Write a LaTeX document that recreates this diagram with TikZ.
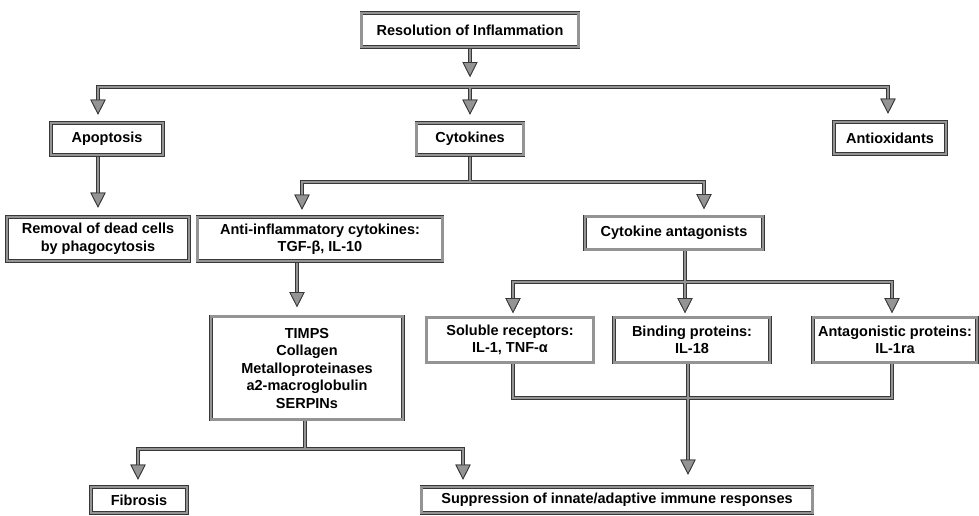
\documentclass[tikz,border=0pt]{standalone}
\usepackage{fontspec}
\setmainfont{Liberation Sans}
\usetikzlibrary{arrows.meta,backgrounds}

\colorlet{wireedge}{black!78}
\colorlet{wirecore}{black!42}

\tikzset{
  box/.style={draw=wireedge, line width=0.65pt, double=wirecore,
    double distance=2.3pt, fill=white, align=center, inner sep=2pt,
    font=\bfseries\fontsize{14.5}{17.5}\selectfont},
  tipshape/.style={-{Triangle[width=15pt,length=15pt,line width=0.8pt,
    color=wireedge,fill=wirecore]}},
  edgepass/.style={draw=wireedge, line width=3.8pt, line cap=rect},
  corepass/.style={draw=wirecore, line width=2.4pt, line cap=rect},
  wire/.style={},
  warr/.style={}
}

% all connectors; drawn twice, dark outline first and grey core on top
\newcommand\wiring{%
  % first level
  \draw[warr, shorten >=10pt] (res.south) -- (b1M);
  \draw[wire] (b1L) -- (b1R);
  \draw[warr, shorten >=8pt] (b1L) -- (b1L |- apop.north);
  \draw[warr, shorten >=8pt] (b1M) -- (cyto.north);
  \draw[warr, shorten >=8pt] (b1R) -- (b1R |- antiox.north);
  % apoptosis branch
  \draw[warr, shorten >=9pt] (apop.south -| removal.north) -- (removal.north);
  % cytokines branch
  \draw[wire] (cyto.south) -- (b2M);
  \draw[wire] (b2L) -- (b2R);
  \draw[warr, shorten >=7pt] (b2L) -- (b2L |- anti.north);
  \draw[warr, shorten >=7pt] (b2R) -- (b2R |- cant.north);
  % anti-inflammatory chain
  \draw[warr, shorten >=9pt] (anti.south -| t1) -- (timps.north -| t1);
  \draw[wire] (timps.south -| b3M) -- (b3M);
  \draw[wire] (b3L) -- (b3R);
  \draw[warr, shorten >=7pt] (b3L) -- (b3L |- fib.north);
  \draw[warr, shorten >=7pt] (b3R) -- (b3R |- sup.north);
  % antagonists
  \draw[wire] (cant.south -| b4M) -- (b4M);
  \draw[wire] (b4L) -- (b4R);
  \draw[warr, shorten >=4pt] (b4L) -- (b4L |- sol.north);
  \draw[warr, shorten >=4pt] (b4M) -- (b4M |- bind.north);
  \draw[warr, shorten >=4pt] (b4R) -- (b4R |- antag.north);
  % merge into suppression
  \draw[wire] (sol.south -| b5L) -- (b5L);
  \draw[wire] (antag.south -| b5R) -- (b5R);
  \draw[wire] (b5L) -- (b5R);
  \draw[warr, shorten >=12pt] (bind.south -| b5M) -- (b5M |- sup.north);
}

\begin{document}
\begin{tikzpicture}[x=1pt, y=-1pt]
\useasboundingbox (0,0) rectangle (979,515);

% boxes
\node[box, minimum width=217pt, minimum height=34pt] (res) at (470,30) {Resolution of Inflammation};
\node[box, minimum width=112pt, minimum height=32pt] (apop) at (107,139) {Apoptosis};
\node[box, minimum width=107pt, minimum height=32pt] (cyto) at (470,139) {Cytokines};
\node[box, minimum width=112pt, minimum height=32pt] (antiox) at (890,138) {Antioxidants};
\node[box, minimum width=182pt, minimum height=44pt] (removal) at (98,239) {Removal of dead cells\\by phagocytosis};
\node[box, minimum width=245pt, minimum height=44pt] (anti) at (320,239) {Anti-inflammatory cytokines:\\TGF-β, IL-10};
\node[box, minimum width=178pt, minimum height=33pt] (cant) at (674,233) {Cytokine antagonists};
\node[box, minimum width=192pt, minimum height=103pt] (timps) at (307,368) {TIMPS\\Collagen\\Metalloproteinases\\a2-macroglobulin\\SERPINs};
\node[box, minimum width=167pt, minimum height=45pt] (sol) at (510,340) {Soluble receptors:\\IL-1, TNF-α};
\node[box, minimum width=156pt, minimum height=45pt] (bind) at (692,340) {Binding proteins:\\IL-18};
\node[box, minimum width=164pt, minimum height=45pt] (antag) at (895,340) {Antagonistic proteins:\\IL-1ra};
\node[box, minimum width=96pt, minimum height=26pt] (fib) at (139,500) {Fibrosis};
\node[box, minimum width=391pt, minimum height=26pt] (sup) at (617,500) {Suppression of innate/adaptive immune responses};

% bus points and connector columns
\coordinate (b1L) at (98,87);  \coordinate (b1M) at (470,87);  \coordinate (b1R) at (888,87);
\coordinate (b2L) at (302,182); \coordinate (b2M) at (470,182); \coordinate (b2R) at (704,182);
\coordinate (t1) at (297,0);
\coordinate (b3L) at (138,449); \coordinate (b3M) at (305,449); \coordinate (b3R) at (463,449);
\coordinate (b4L) at (513,282); \coordinate (b4M) at (685,282); \coordinate (b4R) at (892,282);
\coordinate (b5L) at (513,398); \coordinate (b5M) at (688,398); \coordinate (b5R) at (892,398);

\begin{scope}[on background layer]
  \begin{scope}[wire/.style={edgepass}, warr/.style={edgepass, tipshape}]
    \wiring
  \end{scope}
  \begin{scope}[wire/.style={corepass}, warr/.style={corepass, tipshape}]
    \wiring
  \end{scope}
\end{scope}
\end{tikzpicture}
\end{document}
